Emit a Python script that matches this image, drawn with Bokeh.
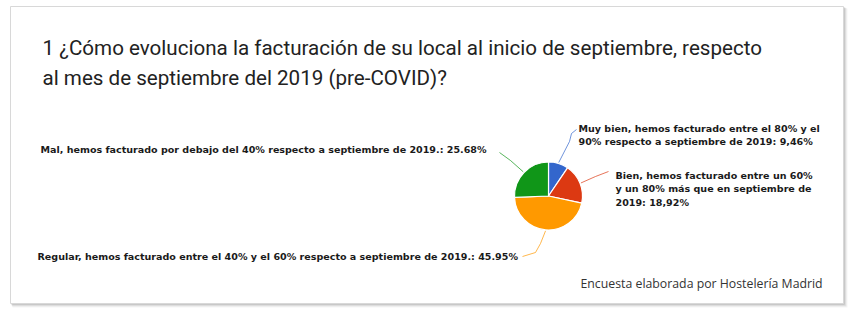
import math
from bokeh.plotting import figure
from bokeh.models import Range1d, ColumnDataSource
from bokeh.core.properties import value
from bokeh.embed import file_html
from bokeh.resources import INLINE

# ---- data ----
categories = [
    "Muy bien, hemos facturado entre el 80% y el\n90% respecto a septiembre de 2019: 9,46%",
    "Bien, hemos facturado entre un 60%\ny un 80% más que en septiembre de\n2019: 18,92%",
    "Regular, hemos facturado entre el 40% y el 60% respecto a septiembre de 2019.: 45.95%",
    "Mal, hemos facturado por debajo del 40% respecto a septiembre de 2019.: 25.68%",
]
values = [9.46, 18.92, 45.95, 25.68]
colors = ["#3366cc", "#dc3912", "#ff9900", "#109618"]
title_text = "1 ¿Cómo evoluciona la facturación de su local al inicio de septiembre, respecto\nal mes de septiembre del 2019 (pre-COVID)?"
footer_text = "Encuesta elaborada por Hostelería Madrid"

W, H = 856, 320
def Y(py):
    return H - py

p = figure(width=W, height=H, x_range=Range1d(0, W), y_range=Range1d(0, H),
           output_backend="svg", toolbar_location=None, min_border=0)
p.axis.visible = False
p.grid.visible = False
p.outline_line_color = None
p.background_fill_color = "white"
p.border_fill_color = "white"

# card with shadow
for i, a in enumerate([0.10, 0.08, 0.06, 0.04]):
    d = i + 1
    p.quad(left=10 + d * 0.5, right=843 + d, top=Y(6 + d * 0.5), bottom=Y(303 + d),
           fill_color="#000000", fill_alpha=a, line_color=None)
p.quad(left=10, right=843, top=Y(6), bottom=Y(303), fill_color="white",
       line_color="#d8d8d8", line_width=1)

# title
p.text(x=[42], y=[Y(35)], text=[title_text], text_font=value("Roboto"),
       text_font_size="20.6px", text_color="#222222", text_baseline="top",
       text_line_height=1.27)

# pie
cx, cy, r = 548, 195.5, 34
total = sum(values)
starts, ends, mids = [], [], []
acc = 0.0
for v in values:
    a0 = math.pi / 2 - 2 * math.pi * acc / total
    acc += v
    a1 = math.pi / 2 - 2 * math.pi * acc / total
    starts.append(a0)
    ends.append(a1)
    mids.append((a0 + a1) / 2)
src = ColumnDataSource(dict(start=starts, end=ends, color=colors))
p.wedge(x=cx, y=Y(cy), radius=r, start_angle="start", end_angle="end",
        direction="clock", fill_color="color", line_color="white", line_width=1.2,
        source=src)

# leader lines: from slice edge to label
targets = [
    [(569, 141), (571, 133), (576, 129)],
    [(595, 176), (608, 171)],
    [(540, 243), (535, 252), (522, 256)],
    [(510, 160), (499, 152)],
]
for m, col, tg in zip(mids, colors, targets):
    ex = cx + (r + 1) * math.cos(m)
    ey = cy - (r + 1) * math.sin(m)
    xs = [ex] + [t[0] for t in tg]
    ys = [Y(ey)] + [Y(t[1]) for t in tg]
    p.line(xs, ys, line_color=col, line_width=1, line_alpha=0.7)

# labels
lab_x = [578, 615, 37, 40]
lab_y = [122, 169, 250, 143]
p.text(x=lab_x, y=[Y(v) for v in lab_y], text=categories,
       text_font=value("DejaVu Sans"), text_font_style="bold",
       text_font_size="9.55px", text_color="#1a1a1a", text_baseline="top",
       text_line_height=1.27)

# footer
p.text(x=[580], y=[Y(283)], text=[footer_text], text_font=value("Open Sans"),
       text_font_size="12.3px", text_color="#333333", text_baseline="middle")

open("out.html", "w").write(file_html(p, INLINE))
